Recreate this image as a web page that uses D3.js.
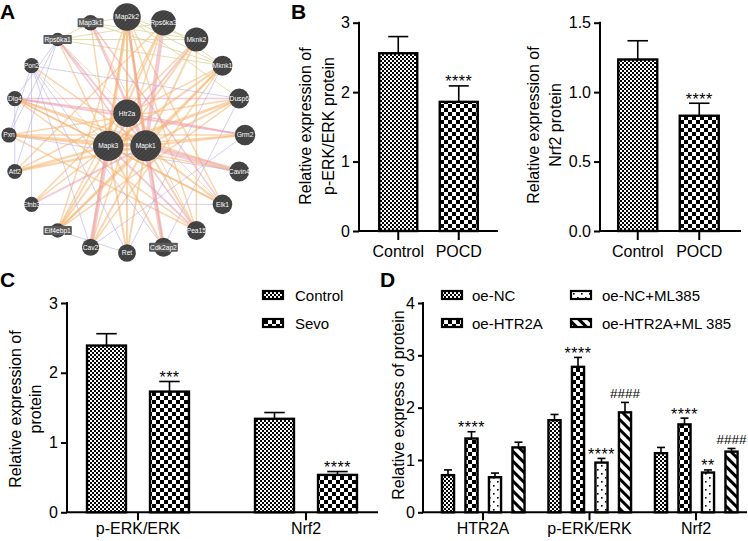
<!DOCTYPE html>
<html><head><meta charset="utf-8">
<script src="https://cdn.jsdelivr.net/npm/d3@7"></script>
<style>
body{margin:0;background:#fff}
svg{display:block}
text{font-family:"Liberation Sans",Arial,sans-serif}
</style>
</head><body>
<svg id="c" width="748" height="541"></svg>
<script>
// ---------------- DATA ----------------
// Panel A: GeneMANIA-style network
const netOuter = ["Map2k2","Rps6ka3","Mknk2","Mknk1","Dusp6","Grm2","Cavin4","Elk1","Pea15","Cdk2ap2","Ret","Cav2","Eif4ebp1","Efnb3","Atf2","Pxn","Dlg4","Pon2","Rps6ka1","Map3k1"];
const netOuterScore = [0.82,0.70,0.63,0.42,0.42,0.45,0.42,0.40,0.37,0.37,0.30,0.27,0.13,0.16,0.15,0.17,0.17,0.16,0.07,0.18];
const netInner = ["Htr2a","Mapk1","Mapk3"];
const netInnerScore = [0.82,1.0,0.97];
const netEdges = [
["Map2k2","Mapk3","P",3],["Map2k2","Mapk1","P",3],["Map2k2","Htr2a","P",1.5],["Map2k2","Cav2","P",2],["Map2k2","Ret","P",2],["Map2k2","Pea15","P",1.5],["Map2k2","Cdk2ap2","P",1.5],["Map2k2","Eif4ebp1","P",1.5],["Map2k2","Elk1","P",1.5],["Map2k2","Mknk2","S",1],["Map2k2","Mknk1","S",1],["Map2k2","Dusp6","S",1],["Map2k2","Mapk1","X",2],
["Rps6ka3","Mapk1","X",4],["Rps6ka3","Mapk3","P",2],["Rps6ka3","Atf2","P",1.5],["Rps6ka3","Eif4ebp1","P",1.5],["Rps6ka3","Mknk1","S",1],["Rps6ka3","Rps6ka1","S",1],["Rps6ka3","Cav2","P",1.5],
["Mknk2","Mapk3","X",2],["Mknk2","Mapk1","P",2],["Mknk2","Efnb3","P",1.5],["Mknk2","Eif4ebp1","P",2],["Mknk2","Map3k1","S",1],["Mknk2","Rps6ka1","S",1],["Mknk2","Pea15","P",1.5],
["Mknk1","Mapk3","P",2],["Mknk1","Mapk1","P",2],["Mknk1","Atf2","P",1.5],["Mknk1","Eif4ebp1","P",2],["Mknk1","Cav2","P",1.5],["Mknk1","Rps6ka1","S",1],["Mknk1","Map3k1","S",1],["Mknk1","Ret","C",0.8],
["Dusp6","Mapk3","P",3],["Dusp6","Mapk1","P",2],["Dusp6","Pxn","P",1.5],["Dusp6","Eif4ebp1","P",1.5],["Dusp6","Pon2","C",0.8],["Dusp6","Cdk2ap2","C",0.8],["Dusp6","Dlg4","X",1.5],
["Grm2","Mapk1","P",2],["Grm2","Pxn","P",1.5],["Grm2","Dlg4","X",2],["Grm2","Htr2a","X",1.5],["Grm2","Cav2","C",0.8],["Grm2","Mapk3","P",1.5],
["Cavin4","Mapk1","X",5],["Cavin4","Mapk3","P",1.5],["Cavin4","Dlg4","P",1.5],["Cavin4","Pxn","C",0.8],
["Elk1","Mapk1","P",2],["Elk1","Mapk3","P",2],["Elk1","Dlg4","P",1.5],["Elk1","Efnb3","C",0.8],["Elk1","Map3k1","X",1.5],["Elk1","Rps6ka1","P",1],
["Pea15","Mapk1","P",2],["Pea15","Mapk3","X",2],["Pea15","Dlg4","P",1.5],["Pea15","Pxn","P",1.5],["Pea15","Rps6ka1","X",1.5],
["Cdk2ap2","Mapk1","X",4],["Cdk2ap2","Mapk3","P",2],["Cdk2ap2","Pon2","C",0.8],
["Ret","Mapk1","P",2],["Ret","Mapk3","P",2],["Ret","Pon2","C",0.8],["Ret","Eif4ebp1","C",0.8],
["Cav2","Mapk3","X",4],["Cav2","Mapk1","P",2],["Cav2","Pon2","C",0.8],
["Eif4ebp1","Mapk1","P",2],["Eif4ebp1","Mapk3","P",2],
["Efnb3","Mapk1","X",2],["Efnb3","Mapk3","P",1.5],["Efnb3","Pon2","C",0.8],
["Atf2","Mapk1","P",2.5],["Atf2","Mapk3","P",2.5],["Atf2","Dlg4","C",0.8],["Atf2","Rps6ka1","C",0.8],
["Pxn","Mapk1","P",2.5],["Pxn","Mapk3","P",2],["Pxn","Pon2","C",0.8],["Pxn","Rps6ka1","C",0.8],
["Dlg4","Mapk1","P",2],["Dlg4","Mapk3","P",1.5],["Dlg4","Htr2a","X",1.5],["Dlg4","Rps6ka1","C",0.8],
["Pon2","Mapk1","P",1.5],["Pon2","Mapk3","P",1],
["Rps6ka1","Mapk1","X",2],["Rps6ka1","Mapk3","P",1.5],["Rps6ka1","Map3k1","S",1],
["Map3k1","Mapk1","X",2.5],["Map3k1","Mapk3","P",1.5],["Map3k1","Map2k2","S",1],["Map3k1","Pea15","P",1],
["Htr2a","Mapk1","X",1.5],["Mapk1","Mapk3","X",2]
];

// Panel B
const bCats = ["Control","POCD"];
const bErkMean = [2.56, 1.86];
const bErkSd = [0.24, 0.23];
const bErkSig = ["", "****"];
const bErkTicks = [0,1,2,3];
const bNrfMean = [1.235, 0.83];
const bNrfSd = [0.135, 0.09];
const bNrfSig = ["", "****"];
const bNrfTicks = [0,0.5,1.0,1.5];

// Panel C
const cGroups = ["p-ERK/ERK","Nrf2"];
const cSeries = ["Control","Sevo"];
const cControl = [2.39, 1.34];
const cControlSd = [0.17, 0.09];
const cSevo = [1.73, 0.536];
const cSevoSd = [0.145, 0.048];
const cSevoSig = ["***","****"];
const cTicks = [0,1,2,3];

// Panel D
const dGroups = ["HTR2A","p-ERK/ERK","Nrf2"];
const dSeries = ["oe-NC","oe-HTR2A","oe-NC+ML385","oe-HTR2A+ML 385"];
const dOeNC = [0.71, 1.76, 1.13];
const dOeNCSd = [0.10, 0.11, 0.11];
const dOeHTR2A = [1.41, 2.78, 1.68];
const dOeHTR2ASd = [0.13, 0.18, 0.12];
const dOeNCML = [0.67, 0.95, 0.76];
const dOeNCMLSd = [0.08, 0.08, 0.05];
const dOeHTR2AML = [1.24, 1.91, 1.16];
const dOeHTR2AMLSd = [0.10, 0.19, 0.06];
const dSig = [["","",""],["****","****","****"],["","****","**"],["","####","####"]];
const dTicks = [0,1,2,3,4];

// ---------------- DRAW ----------------
const svg = d3.select("#c");
const FONT = "'Liberation Sans',Arial,sans-serif";
const defs = svg.append("defs");
function pat(id, size, draw, transform){
  const p = defs.append("pattern").attr("id",id).attr("patternUnits","userSpaceOnUse")
    .attr("width",size).attr("height",size);
  if (transform) p.attr("patternTransform",transform);
  p.append("rect").attr("width",size).attr("height",size).attr("fill","#fff");
  draw(p);
}
pat("fine",4,p=>{
  p.append("rect").attr("width",2).attr("height",2).attr("fill","#000");
  p.append("rect").attr("x",2).attr("y",2).attr("width",2).attr("height",2).attr("fill","#000");
});
pat("coarse",8,p=>{
  p.append("rect").attr("width",4).attr("height",4).attr("fill","#000");
  p.append("rect").attr("x",4).attr("y",4).attr("width",4).attr("height",4).attr("fill","#000");
});
pat("dots",8,p=>{
  p.append("rect").attr("x",1).attr("y",1).attr("width",1.6).attr("height",1.6).attr("fill","#000");
  p.append("rect").attr("x",5).attr("y",5).attr("width",1.6).attr("height",1.6).attr("fill","#000");
});
pat("stripes",7,p=>{
  p.append("rect").attr("width",3).attr("height",7).attr("fill","#000");
}, "rotate(-45)");
// node hatch
(function(){
  const p = defs.append("pattern").attr("id","nodeHatch").attr("patternUnits","userSpaceOnUse")
    .attr("width",3).attr("height",3).attr("patternTransform","rotate(45)");
  p.append("rect").attr("width",3).attr("height",3).attr("fill","#474747");
  p.append("rect").attr("width",1).attr("height",3).attr("fill","#3a3a3a");
})();

// Panel letters
function letter(t,x,y){
  svg.append("text").attr("x",x).attr("y",y).text(t)
    .attr("font-size",21).attr("font-weight","bold").attr("font-family",FONT).attr("fill","#000");
}
letter("A",0,19); letter("B",291,19); letter("C",0,287); letter("D",380,287);

// ---------- Panel A ----------
(function(){
  const gA = svg.append("g");
  const cx = 127, cy = 135;
  const rScale = d3.scaleLinear().domain([0,1]).range([6,15.5]);
  const ang = d3.scaleLinear().domain([0, netOuter.length]).range([-Math.PI/2, 1.5*Math.PI]);
  const nodes = {};
  netOuter.forEach((n,i)=>{
    const a = ang(i);
    nodes[n] = {name:n, x:cx+118*Math.cos(a), y:cy+118*Math.sin(a), r:rScale(netOuterScore[i])};
  });
  const innerAng = d3.scaleLinear().domain([0, netInner.length]).range([-Math.PI/2, 1.5*Math.PI]);
  netInner.forEach((n,i)=>{
    const a = innerAng(i);
    nodes[n] = {name:n, x:cx+21.7*Math.cos(a), y:cy+21.7*Math.sin(a), r:rScale(netInnerScore[i])};
  });
  const eColor = {P:"#f5b46e", X:"#ec93a6", C:"#b7aee6", S:"#ddd49a"};
  const eOp = {P:0.55, X:0.5, C:0.75, S:0.8};
  gA.append("g").selectAll("line").data(netEdges).join("line")
    .attr("x1",d=>nodes[d[0]].x).attr("y1",d=>nodes[d[0]].y)
    .attr("x2",d=>nodes[d[1]].x).attr("y2",d=>nodes[d[1]].y)
    .attr("stroke",d=>eColor[d[2]]).attr("stroke-opacity",d=>eOp[d[2]])
    .attr("stroke-width",d=>d[3]);
  const nodeArr = Object.values(nodes);
  const ng = gA.append("g").selectAll("g").data(nodeArr).join("g")
    .attr("transform",d=>`translate(${d.x},${d.y})`);
  ng.append("circle").attr("r",d=>d.r).attr("fill","url(#nodeHatch)");
  ng.each(function(d){
    const g = d3.select(this);
    const t = g.append("text").text(d.name).attr("text-anchor","middle")
      .attr("dy","0.35em").attr("font-size",6.7).attr("fill","#fff").attr("font-family",FONT);
    const w = t.node().getComputedTextLength();
    if (w > 2*d.r + 2.5) {
      g.insert("rect","text").attr("x",-w/2-1).attr("y",-4.5).attr("width",w+2).attr("height",9)
        .attr("fill","#5a5a5a").attr("rx",1);
    }
  });
})();

// ---------- Bar panels ----------
function drawPanel(o){
  const g = svg.append("g");
  const y = d3.scaleLinear().domain(o.yDomain).range([o.yBottom,o.yTop]);
  const x0 = d3.scaleBand().domain(o.groups).range(o.groupRange);
  const x1 = d3.scaleBand().domain(o.series).range(o.innerRange)
    .paddingInner(o.pad).paddingOuter(o.pad/2);
  const bw = x1.bandwidth();
  // Y axis
  const ya = d3.axisLeft(y).tickValues(o.ticks).tickFormat(o.fmt).tickSize(o.yTickLen).tickPadding(3);
  const yg = g.append("g").attr("transform",`translate(${o.axisX},0)`).call(ya);
  yg.select(".domain").remove();
  yg.selectAll("line").attr("stroke","#000").attr("stroke-width",2);
  yg.selectAll("text").attr("font-size",16).attr("font-family",FONT).attr("fill","#000");
  g.append("line").attr("x1",o.axisX).attr("x2",o.axisX).attr("y1",y(o.yDomain[1])-1).attr("y2",y(0))
    .attr("stroke","#000").attr("stroke-width",2);
  // X axis
  const xa = d3.axisBottom(x0).tickSize(o.xTickLen).tickPadding(o.xTickPad);
  const xg = g.append("g").attr("transform",`translate(0,${y(0)})`).call(xa);
  xg.select(".domain").remove();
  xg.selectAll("line").attr("stroke","#000").attr("stroke-width",2);
  xg.selectAll("text").attr("font-size",16).attr("font-family",FONT).attr("fill","#000");
  g.append("line").attr("x1",o.axisX-1).attr("x2",o.xEnd).attr("y1",y(0)).attr("y2",y(0))
    .attr("stroke","#000").attr("stroke-width",2);
  // bars
  const items = [];
  o.groups.forEach((gr,gi)=>o.series.forEach((s,si)=>{
    items.push({gr, s, gi, si, m:o.values[si][gi], sd:o.sds[si][gi], sig:o.sigs[si][gi], fill:o.fillOf(gi,si)});
  }));
  const bg = g.append("g");
  items.forEach(d=>{
    const x = x0(d.gr) + x1(d.s);
    const cxm = x + bw/2;
    const capW = Math.max(8, bw*0.5);
    bg.append("line").attr("x1",cxm).attr("x2",cxm).attr("y1",y(d.m)).attr("y2",y(d.m+d.sd))
      .attr("stroke","#000").attr("stroke-width",1.6);
    bg.append("line").attr("x1",cxm-capW/2).attr("x2",cxm+capW/2).attr("y1",y(d.m+d.sd)).attr("y2",y(d.m+d.sd))
      .attr("stroke","#000").attr("stroke-width",1.6);
    bg.append("rect").attr("x",x+1).attr("y",y(d.m)).attr("width",bw-2).attr("height",y(0)-y(d.m))
      .attr("fill",`url(#${d.fill})`).attr("stroke","#000").attr("stroke-width",2.4);
    if (d.sig) {
      const isHash = d.sig[0] === "#";
      bg.append("text").attr("x",cxm).attr("y",y(d.m+d.sd) + (isHash ? -4.5 : 1.5))
        .attr("text-anchor","middle").attr("font-size",isHash?13.5:16).attr("font-family",FONT)
        .attr("letter-spacing",isHash?0:0.5).attr("fill","#000").text(d.sig);
    }
  });
  // y title
  const tg = g.append("g");
  o.title.forEach((line,i)=>{
    tg.append("text").attr("transform",`translate(${o.titleX[i]},${o.titleY}) rotate(-90)`)
      .attr("text-anchor","middle").attr("dominant-baseline","central")
      .attr("font-size",16).attr("font-family",FONT).attr("fill","#000").text(line);
  });
  return {x0,x1,y};
}

const patOf = {"Control":"fine","POCD":"coarse","Sevo":"coarse","oe-NC":"fine","oe-HTR2A":"coarse","oe-NC+ML385":"dots","oe-HTR2A+ML 385":"stripes"};

// B1
drawPanel({groups:bCats, series:["v"], values:[bErkMean], sds:[bErkSd], sigs:[bErkSig],
  fillOf:(gi,si)=>patOf[bCats[gi]],
  yDomain:[0,3], yBottom:231, yTop:22.7, ticks:bErkTicks, fmt:d3.format("d"), yTickLen:6,
  axisX:359, xEnd:498, groupRange:[368,489], innerRange:[10.25,50.25], pad:0,
  xTickLen:9, xTickPad:6,
  title:["Relative expression of","p-ERK/ERK  protein"], titleX:[305,328], titleY:126});
// B2
drawPanel({groups:bCats, series:["v"], values:[bNrfMean], sds:[bNrfSd], sigs:[bNrfSig],
  fillOf:(gi,si)=>patOf[bCats[gi]],
  yDomain:[0,1.5], yBottom:231, yTop:22.7, ticks:bNrfTicks, fmt:d3.format(".1f"), yTickLen:6,
  axisX:600, xEnd:741, groupRange:[607,730], innerRange:[10.25,51.25], pad:0,
  xTickLen:9, xTickPad:6,
  title:["Relative expression of","Nrf2 protein"], titleX:[533,555], titleY:125});
// C
drawPanel({groups:cGroups, series:cSeries, values:[cControl,cSevo], sds:[cControlSd,cSevoSd], sigs:[["",""],cSevoSig],
  fillOf:(gi,si)=>patOf[cSeries[si]],
  yDomain:[0,3], yBottom:512.3, yTop:303, ticks:cTicks, fmt:d3.format("d"), yTickLen:6,
  axisX:67, xEnd:378, groupRange:[54,390], innerRange:[21,147], pad:0.35,
  xTickLen:8, xTickPad:2,
  title:["Relative expression of","protein"], titleX:[15,35], titleY:409});
// D
drawPanel({groups:dGroups, series:dSeries, values:[dOeNC,dOeHTR2A,dOeNCML,dOeHTR2AML],
  sds:[dOeNCSd,dOeHTR2ASd,dOeNCMLSd,dOeHTR2AMLSd], sigs:dSig,
  fillOf:(gi,si)=>patOf[dSeries[si]],
  yDomain:[0,4], yBottom:512.3, yTop:303, ticks:dTicks, fmt:d3.format("d"), yTickLen:5,
  axisX:423, xEnd:747, groupRange:[429.75,749.25], innerRange:[6.5,100.5], pad:0.4,
  xTickLen:8, xTickPad:2,
  title:["Relative express of protein"], titleX:[398], titleY:405});

// Legends
function legend(items, xs, txs, ys){
  items.forEach((s,i)=>{
    const col = Math.floor(i/2), row = i%2;
    svg.append("rect").attr("x",xs[col]).attr("y",ys[row]-4).attr("width",20).attr("height",8)
      .attr("fill",`url(#${patOf[s]})`).attr("stroke","#000").attr("stroke-width",2.2);
    svg.append("text").attr("x",txs[col]).attr("y",ys[row]).attr("dominant-baseline","central")
      .attr("font-size",15).attr("font-family",FONT).attr("fill","#000").text(s);
  });
}
legend(cSeries,[263],[295],[295,323]);
legend(dSeries,[442,571],[472,602],[295,323]);
</script>
</body></html>
